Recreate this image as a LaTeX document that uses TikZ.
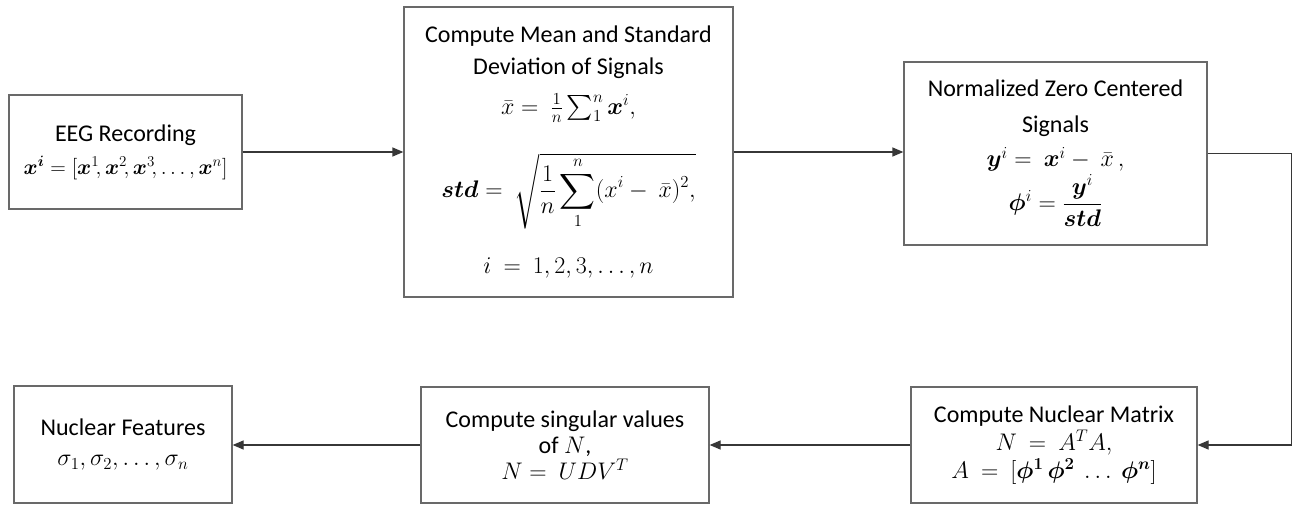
\RequirePackage{fix-cm}
\documentclass[tikz,border=0pt]{standalone}
\usepackage{amsmath,bm}
\usepackage{fontspec}
\setmainfont{Carlito}
\usetikzlibrary{arrows.meta}
\definecolor{boxcol}{RGB}{105,105,105}
\definecolor{linecol}{RGB}{55,55,55}
\begin{document}
\begin{tikzpicture}[x=1pt,y=-1pt,
  font=\fontsize{24}{30}\selectfont,
  box/.style={draw=boxcol, line width=1.3pt, align=center, inner sep=0pt, fill=white},
  conn/.style={draw=linecol, line width=1.3pt, -{Triangle[length=11pt,width=9pt]}}]
\useasboundingbox[fill=white] (0,0) rectangle (1299,505);

\node[box, minimum width=233pt, minimum height=114pt] (eeg) at (125.5,152)
  {EEG Recording\\[3pt]
   {\fontsize{21.5}{25}\selectfont$\bm{x^i} = [\bm{x}^1\!, \bm{x}^2\!, \bm{x}^3\!, \dots, \bm{x}^n]$}};

\node[box, minimum width=329pt, minimum height=290pt] (mean) at (568.5,152)
  {Compute Mean and Standard\\[2pt]
   Deviation of Signals\\[10pt]
   $\bar{x} =\ \tfrac{1}{n}\textstyle\sum_1^n \bm{x}^i,$\\[30pt]
   $\bm{std} =\ \sqrt{\dfrac{1}{n}\displaystyle\sum_1^n (x^i -\ \bar{x})^2,}$\\[28pt]
   $i\ =\ 1, 2, 3, \dots, n$};

\node[box, minimum width=303pt, minimum height=183pt] (norm) at (1055.5,153.5)
  {Normalized Zero Centered\\[6pt]
   Signals\\[4pt]
   $\bm{y}^i =\ \bm{x}^i -\ \bar{x}\,,$\\[2pt]
   $\bm{\phi}^i = \dfrac{\bm{y}^i}{\bm{std}}$};

\node[box, minimum width=286pt, minimum height=116pt] (nm) at (1054,445)
  {Compute Nuclear Matrix\\[-2pt]
   $N\ =\ A^TA,$\\[-2pt]
   $A\ =\ [\bm{\phi^1}\,\bm{\phi^2}\ \dots\ \bm{\phi^n}]$};

\node[box, minimum width=288pt, minimum height=116pt] (sv) at (565,445)
  {Compute singular values\\[-4pt]
   of $N$,\\[-4pt]
   $N =\ UDV^T$};

\node[box, minimum width=218pt, minimum height=117pt] (nf) at (123,444.5)
  {Nuclear Features\\[0pt]
   $\sigma_1, \sigma_2, \dots, \sigma_n$};

\draw[conn] (eeg) -- (mean);
\draw[conn] (mean.east) -- (mean.east -| norm.west);
\draw[conn] (norm.east) -- ++(84,0) |- (nm.east);
\draw[conn] (nm) -- (sv);
\draw[conn] (sv.west) -- (sv.west -| nf.east);
\end{tikzpicture}
\end{document}
